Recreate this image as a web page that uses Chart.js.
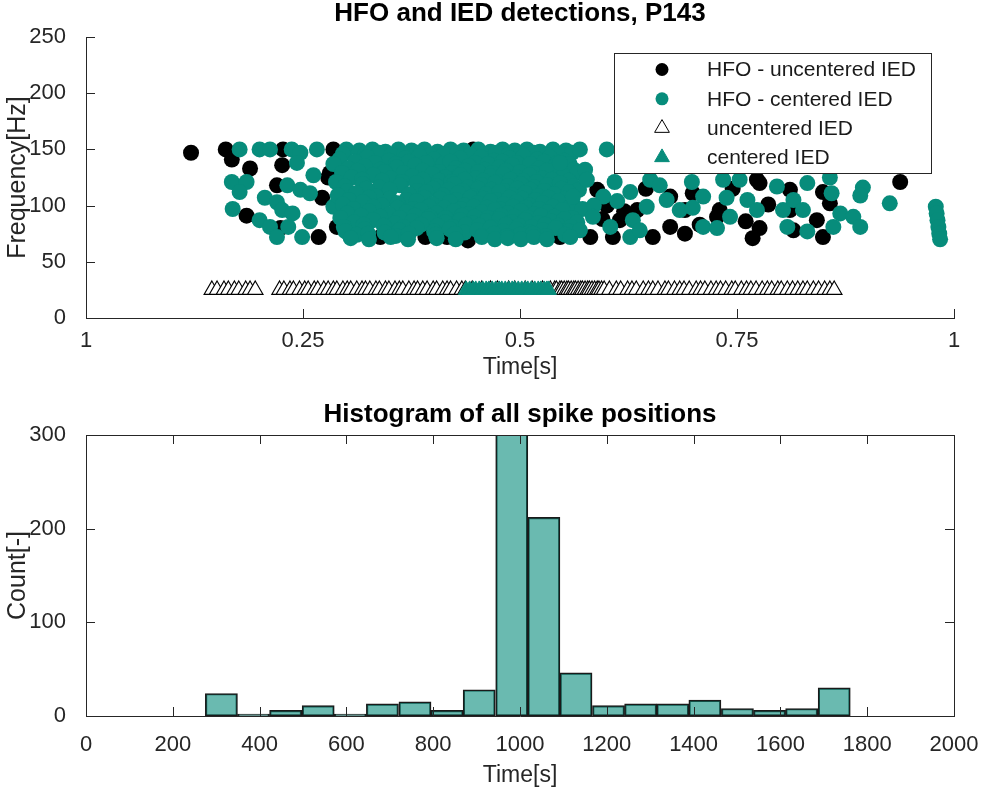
<!DOCTYPE html>
<html>
<head>
<meta charset="utf-8">
<title>HFO and IED detections, P143</title>
<script src="https://cdn.jsdelivr.net/npm/chart.js@4.4.1/dist/chart.umd.min.js"></script>
<style>
  html, body { margin: 0; padding: 0; background: #fff; }
  #wrap { position: relative; width: 982px; height: 791px; }
  canvas { position: absolute; left: 0; }
  #top { top: 0; }
  #bottom { top: 395px; }
</style>
</head>
<body>
<div id="wrap">
  <canvas id="top" width="982" height="395"></canvas>
  <canvas id="bottom" width="982" height="396"></canvas>
</div>
<script>
// ---- data ----
const legendLabels = ['HFO - uncentered IED', 'HFO - centered IED', 'uncentered IED', 'centered IED'];
const timeTickLabels = ['1', '0.25', '0.5', '0.75', '1'];
const iedLevel = 25; // Hz, row where IED markers sit

// HFO detections [time, frequency]
const hfoUncentered = [
  [0.121,147],[0.161,150],[0.168,141],[0.189,133],[0.185,91],[0.220,118],[0.224,80],[0.226,136],
  [0.227,150],[0.268,72],[0.272,107],[0.279,125],[0.281,129],[0.285,150],[0.289,81],[0.339,72],
  [0.347,109],[0.365,76],[0.370,132],[0.391,117],[0.391,72],[0.396,134],[0.416,132],[0.416,72],
  [0.440,69],[0.446,150],[0.497,138],[0.512,129],[0.535,120],[0.527,85],[0.546,72],[0.581,72],
  [0.589,114],[0.600,100],[0.595,88],[0.607,72],[0.615,87],[0.620,95],[0.635,96],[0.645,115],
  [0.653,72],[0.673,81],[0.673,108],[0.690,75],[0.690,96],[0.699,111],[0.707,83],[0.727,90],
  [0.730,96],[0.745,115],[0.760,86],[0.768,71],[0.773,123],[0.776,120],[0.776,80],[0.786,101],
  [0.811,114],[0.811,96],[0.815,78],[0.842,87],[0.849,112],[0.849,72],[0.857,102],[0.938,121]
];
const hfoCentered = [
  // left edge
  [0.168,121],[0.185,121],[0.177,112],[0.169,97],[0.177,150],[0.200,150],[0.212,150],[0.237,150],
  [0.247,147],[0.243,138],[0.266,150],[0.262,127],[0.232,118],[0.247,114],[0.258,111],[0.206,107],
  [0.220,103],[0.285,99],[0.200,87],[0.212,81],[0.220,72],[0.226,96],[0.238,93],[0.233,81],
  [0.258,86],[0.249,72],
  // dense core
  [0.300,150],[0.315,149],[0.330,150],[0.345,148],[0.360,150],[0.375,149],[0.390,150],[0.405,148],
  [0.420,150],[0.435,149],[0.452,150],[0.466,148],[0.480,150],[0.494,149],[0.508,150],[0.523,148],
  [0.538,150],[0.553,149],
  [0.296,146],[0.322,146],[0.338,147],[0.352,145],[0.367,146],[0.382,147],[0.397,145],[0.413,146],
  [0.428,147],[0.443,145],[0.459,146],[0.473,147],[0.487,145],[0.501,146],[0.516,147],[0.530,145],
  [0.545,146],[0.560,147],
  [0.292,141],[0.324,143],[0.349,140],[0.368,142],[0.384,144],[0.401,141],[0.431,142],[0.455,143],
  [0.470,140],[0.488,142],[0.504,144],[0.520,141],[0.534,143],[0.551,140],
  [0.285,137],[0.310,139],[0.333,138],[0.357,137],[0.372,139],[0.392,138],[0.412,137],[0.420,139],
  [0.448,138],[0.463,137],[0.480,139],[0.496,138],[0.512,137],[0.528,139],[0.543,138],[0.557,137],
  [0.302,133],[0.321,135],[0.339,132],[0.358,134],[0.379,136],[0.426,133],[0.441,135],[0.459,132],
  [0.476,134],[0.491,136],[0.522,133],[0.541,135],[0.562,132],
  [0.295,129],[0.313,131],[0.344,130],[0.366,129],[0.388,131],[0.407,130],[0.422,129],[0.437,131],
  [0.452,130],[0.468,129],[0.484,131],[0.500,130],[0.515,129],[0.531,131],[0.547,130],[0.566,129],
  [0.306,125],[0.331,127],[0.351,124],[0.376,126],[0.399,128],[0.414,125],[0.431,127],[0.449,124],
  [0.466,126],[0.481,128],[0.496,125],[0.511,127],[0.526,124],[0.550,126],
  [0.288,121],[0.318,123],[0.341,122],[0.364,121],[0.388,123],[0.407,122],[0.421,121],[0.436,123],
  [0.458,122],[0.474,121],[0.489,123],[0.504,122],[0.519,121],[0.537,123],[0.556,122],
  [0.298,117],[0.319,119],[0.338,116],[0.362,118],[0.381,120],[0.404,117],[0.424,119],[0.440,116],
  [0.456,118],[0.471,120],[0.486,117],[0.501,119],[0.516,116],[0.531,118],[0.546,120],[0.562,117],
  [0.301,113],[0.323,115],[0.350,114],[0.382,113],[0.400,115],[0.418,114],[0.434,113],[0.452,115],
  [0.467,114],[0.482,113],[0.497,115],[0.512,114],[0.528,113],[0.548,115],[0.568,114],
  [0.290,109],[0.311,111],[0.334,108],[0.372,110],[0.392,112],[0.411,109],[0.429,111],[0.446,108],
  [0.461,110],[0.476,112],[0.491,109],[0.506,111],[0.521,108],[0.539,110],[0.556,112],
  [0.303,105],[0.326,107],[0.350,106],[0.369,105],[0.390,107],[0.408,106],[0.427,105],[0.443,107],
  [0.458,106],[0.473,105],[0.488,107],[0.503,106],[0.518,105],[0.533,107],[0.552,106],
  [0.296,101],[0.319,103],[0.341,100],[0.359,102],[0.381,104],[0.399,101],[0.419,103],[0.436,100],
  [0.451,102],[0.466,104],[0.481,101],[0.496,103],[0.511,100],[0.526,102],[0.544,104],[0.561,101],
  [0.308,97],[0.331,99],[0.359,98],[0.377,97],[0.395,99],[0.413,98],[0.432,97],[0.447,99],
  [0.462,98],[0.477,97],[0.492,99],[0.507,98],[0.522,97],[0.538,99],[0.556,98],[0.572,97],
  [0.301,93],[0.326,95],[0.349,92],[0.369,94],[0.386,96],[0.404,93],[0.424,95],[0.441,92],
  [0.456,94],[0.471,96],[0.486,93],[0.501,95],[0.516,92],[0.531,94],[0.549,96],
  [0.293,89],[0.317,91],[0.339,90],[0.361,89],[0.379,91],[0.396,90],[0.414,89],[0.433,91],
  [0.448,90],[0.463,89],[0.478,91],[0.494,90],[0.509,89],[0.524,91],[0.540,90],[0.560,89],
  [0.309,85],[0.331,87],[0.356,84],[0.376,86],[0.394,88],[0.414,85],[0.431,87],[0.446,84],
  [0.461,86],[0.476,88],[0.491,85],[0.506,87],[0.521,84],[0.536,86],[0.551,88],[0.566,85],
  [0.297,81],[0.320,83],[0.343,82],[0.366,81],[0.386,83],[0.405,82],[0.422,81],[0.438,83],
  [0.453,82],[0.468,81],[0.484,83],[0.499,82],[0.514,81],[0.529,83],[0.544,82],[0.559,81],
  [0.299,77],[0.321,79],[0.344,76],[0.361,78],[0.381,80],[0.401,77],[0.419,79],[0.436,76],
  [0.451,78],[0.466,80],[0.481,77],[0.496,79],[0.511,76],[0.526,78],[0.541,80],[0.556,77],
  [0.312,74],[0.325,75],[0.357,73],[0.372,75],[0.403,74],[0.425,75],[0.456,73],[0.470,75],
  [0.485,73],[0.500,74],[0.515,75],[0.530,73],[0.552,74],
  [0.305,71],[0.326,70],[0.351,72],[0.371,70],[0.404,71],[0.426,70],[0.456,72],[0.471,70],
  [0.486,71],[0.501,70],[0.516,72],[0.531,70],
  // right side
  [0.569,150],[0.600,150],[0.546,138],[0.575,132],[0.577,123],[0.609,121],[0.561,108],[0.596,108],
  [0.585,100],[0.612,104],[0.627,112],[0.650,123],[0.661,118],[0.669,105],[0.646,99],[0.630,87],
  [0.604,81],[0.584,90],[0.569,78],[0.558,72],[0.627,72],[0.638,78],[0.684,96],[0.698,121],
  [0.711,108],[0.699,98],[0.711,81],[0.727,80],[0.742,90],[0.734,123],[0.753,123],[0.738,107],
  [0.762,105],[0.773,96],[0.796,117],[0.803,96],[0.808,81],[0.815,105],[0.831,120],[0.826,96],
  [0.869,93],[0.884,90],[0.892,81],[0.861,81],[0.831,77],[0.857,125],[0.859,111],[0.895,116],
  [0.892,109],[0.926,102],[0.979,99],[0.980,93],[0.981,87],[0.982,81],[0.983,75],[0.984,70]
];

// IED detections, time only
const iedUncentered = [
  0.145,0.151,0.159,0.164,0.171,0.176,0.184,0.189,0.195,
  0.223,0.228,0.235,0.239,0.246,0.252,0.256,0.263,0.267,0.274,0.279,0.285,0.289,0.296,0.301,
  0.305,0.312,0.318,0.322,0.327,0.334,0.338,0.345,0.349,0.356,0.361,0.365,0.372,0.378,0.382,
  0.388,0.393,0.400,0.404,0.411,0.416,0.420,0.427,0.433,0.437,0.445,0.456,0.466,0.474,0.487,
  0.494,0.506,0.514,0.526,0.535,0.540,0.542,0.546,0.548,0.551,0.554,0.556,0.559,0.562,0.564,
  0.567,0.570,0.572,0.575,0.578,0.580,0.583,0.586,0.589,0.591,0.594,0.597,0.603,0.611,0.616,
  0.624,0.629,0.634,0.642,0.648,0.653,0.659,0.667,0.671,0.678,0.684,0.689,0.695,0.703,0.708,
  0.713,0.720,0.726,0.731,0.737,0.744,0.748,0.755,0.761,0.766,0.772,0.779,0.785,0.790,0.797,
  0.801,0.808,0.814,0.820,0.826,0.831,0.838,0.844,0.851,0.857,0.862
];
const iedCentered = [
  0.438,0.442,0.446,0.449,0.453,0.457,0.461,0.464,0.468,0.472,0.476,0.479,0.483,0.487,
  0.491,0.494,0.498,0.502,0.506,0.509,0.513,0.517,0.521,0.524,0.528,0.531,0.533
];

// histogram of all spike positions (bin centre in s, count)
const binCenters = [312, 386, 460, 535, 609, 683, 758, 832, 906, 981,
                    1055, 1129, 1204, 1278, 1352, 1426, 1501, 1575, 1649, 1724];
const binCounts = [24, 2, 6, 11, 2, 13, 15, 6, 28, 345,
                   212, 46, 11, 13, 13, 17, 8, 6, 8, 30];

// ---- style ----
const FONT = '"Liberation Sans", Arial, Helvetica, sans-serif';
const AXIS_COLOR = '#262626';
const TEAL = '#078c7b';
const TEAL_FACE = 'rgba(7,140,123,0.6)';

Chart.defaults.font.family = FONT;
Chart.defaults.color = AXIS_COLOR;
Chart.defaults.animation = false;

// MATLAB style ticks pointing into the axes, plus optional box
const inwardTicks = {
  id: 'inwardTicks',
  afterDatasetsDraw(chart, args, opts) {
    const { ctx, chartArea: a, scales: { x, y } } = chart;
    const len = 9;
    ctx.save();
    ctx.strokeStyle = AXIS_COLOR;
    ctx.lineWidth = 1;
    ctx.beginPath();
    x.ticks.forEach(t => {
      const px = Math.round(x.getPixelForValue(t.value)) + 0.5;
      ctx.moveTo(px, a.bottom);
      ctx.lineTo(px, a.bottom - len);
      if (opts.box) {
        ctx.moveTo(px, a.top);
        ctx.lineTo(px, a.top + len);
      }
    });
    y.ticks.forEach(t => {
      const py = Math.round(y.getPixelForValue(t.value)) + 0.5;
      ctx.moveTo(a.left, py);
      ctx.lineTo(a.left + len, py);
      if (opts.box) {
        ctx.moveTo(a.right, py);
        ctx.lineTo(a.right - len, py);
      }
    });
    if (opts.box) {
      ctx.moveTo(Math.round(a.left) + 0.5, Math.round(a.top) + 0.5);
      ctx.lineTo(Math.round(a.right) + 0.5, Math.round(a.top) + 0.5);
      ctx.lineTo(Math.round(a.right) + 0.5, Math.round(a.bottom) + 0.5);
    }
    ctx.stroke();
    ctx.restore();
  }
};

// axes title, centred over the plot area like MATLAB does
const axesTitle = {
  id: 'axesTitle',
  afterDraw(chart, args, opts) {
    const { ctx, chartArea: a } = chart;
    ctx.save();
    ctx.font = 'bold 26px ' + FONT;
    ctx.fillStyle = '#000';
    ctx.textAlign = 'center';
    ctx.textBaseline = 'middle';
    ctx.fillText(opts.text, (a.left + a.right) / 2, opts.y);
    ctx.restore();
  }
};

function drawMarker(ctx, style, x, y, r, fill, stroke) {
  ctx.beginPath();
  if (style === 'triangle') {
    ctx.moveTo(x, y - r);
    ctx.lineTo(x + r * Math.sin(Math.PI / 3), y + r / 2);
    ctx.lineTo(x - r * Math.sin(Math.PI / 3), y + r / 2);
    ctx.closePath();
  } else {
    ctx.arc(x, y, r, 0, Math.PI * 2);
  }
  ctx.fillStyle = fill;
  ctx.fill();
  if (stroke) {
    ctx.strokeStyle = stroke;
    ctx.lineWidth = 1;
    ctx.stroke();
  }
}

// legend box inside the axes, top right
const legendBox = {
  id: 'legendBox',
  afterDraw(chart) {
    const ctx = chart.ctx;
    const bx = 614.5, by = 53.5, bw = 317, bh = 120;
    ctx.save();
    ctx.fillStyle = '#fff';
    ctx.fillRect(bx, by, bw, bh);
    ctx.strokeStyle = AXIS_COLOR;
    ctx.lineWidth = 1;
    ctx.strokeRect(bx, by, bw, bh);
    ctx.font = '21px ' + FONT;
    ctx.textBaseline = 'middle';
    ctx.textAlign = 'left';
    chart.data.datasets.forEach((ds, i) => {
      const cy = by + 16 + i * 29.3;
      const r = ds.pointStyle === 'triangle' ? 8.5 : 6.5;
      drawMarker(ctx, ds.pointStyle, 662, cy, r, ds.backgroundColor,
                 ds.pointStyle === 'triangle' && ds.borderWidth ? ds.borderColor : null);
      ctx.fillStyle = '#1a1a1a';
      ctx.fillText(legendLabels[i], 707, cy + 1);
    });
    ctx.restore();
  }
};

const toXY = pairs => pairs.map(p => ({ x: p[0], y: p[1] }));
const toIED = xs => xs.map(v => ({ x: v, y: iedLevel }));

const tickFont = { size: 22 };
const xTitleFont = { size: 23 };
const yTitleFont = { size: 25 };

// keep the plot edges where MATLAB put them, labels may hang over
const fixX = h => s => { s.height = h; s.paddingLeft = 0; s.paddingRight = 0; };
const fixY = s => { s.width = 86; s.paddingTop = 0; s.paddingBottom = 0; };

// ---- top: scatter of detections ----
new Chart(document.getElementById('top'), {
  type: 'scatter',
  data: {
    datasets: [
      { label: legendLabels[0], data: toXY(hfoUncentered), order: 4,
        pointStyle: 'circle', pointRadius: 8, backgroundColor: '#000', borderWidth: 0 },
      { label: legendLabels[1], data: toXY(hfoCentered), order: 3,
        pointStyle: 'circle', pointRadius: 8, backgroundColor: TEAL, borderWidth: 0 },
      { label: legendLabels[2], data: toIED(iedUncentered), order: 2,
        pointStyle: 'triangle', pointRadius: 9, backgroundColor: '#fff', borderColor: '#000', borderWidth: 1.1 },
      { label: legendLabels[3], data: toIED(iedCentered), order: 1,
        pointStyle: 'triangle', pointRadius: 9, backgroundColor: TEAL, borderColor: TEAL, borderWidth: 1 }
    ]
  },
  options: {
    responsive: false,
    devicePixelRatio: 1,
    layout: { padding: { left: 0, right: 28, top: 37, bottom: 0 } },
    plugins: {
      legend: { display: false },
      tooltip: { enabled: false },
      axesTitle: { text: 'HFO and IED detections, P143', y: 14 },
      inwardTicks: { box: false }
    },
    scales: {
      x: {
        type: 'linear', min: 0, max: 1,
        grid: { display: false },
        border: { display: true, color: AXIS_COLOR, width: 1 },
        ticks: { stepSize: 0.25, font: tickFont, color: AXIS_COLOR, padding: 2,
                 maxRotation: 0, callback: (v, i) => timeTickLabels[i] },
        title: { display: true, text: 'Time[s]', font: xTitleFont, color: AXIS_COLOR, padding: { top: 0, bottom: 14 } },
        afterFit: fixX(77)
      },
      y: {
        min: 0, max: 250,
        grid: { display: false },
        border: { display: true, color: AXIS_COLOR, width: 1 },
        ticks: { stepSize: 50, font: tickFont, color: AXIS_COLOR, padding: 12 },
        title: { display: true, text: 'Frequency[Hz]', font: yTitleFont, color: AXIS_COLOR, padding: { top: 3, bottom: 0 } },
        afterFit: fixY
      }
    }
  },
  plugins: [inwardTicks, axesTitle, legendBox]
});

// ---- bottom: histogram ----
new Chart(document.getElementById('bottom'), {
  type: 'bar',
  data: {
    datasets: [{
      label: 'Count',
      data: binCenters.map((c, i) => ({ x: c, y: binCounts[i] })),
      backgroundColor: TEAL_FACE,
      borderColor: '#1a1a1a',
      borderWidth: 1.5,
      borderSkipped: false,
      barPercentage: 1,
      categoryPercentage: 1
    }]
  },
  options: {
    responsive: false,
    devicePixelRatio: 1,
    layout: { padding: { left: 0, right: 28, top: 40, bottom: 0 } },
    plugins: {
      legend: { display: false },
      tooltip: { enabled: false },
      axesTitle: { text: 'Histogram of all spike positions', y: 20 },
      inwardTicks: { box: true }
    },
    scales: {
      x: {
        type: 'linear', min: 0, max: 2000, offset: false,
        grid: { display: false, offset: false },
        border: { display: true, color: AXIS_COLOR, width: 1 },
        ticks: { stepSize: 200, font: tickFont, color: AXIS_COLOR, padding: 8, maxRotation: 0,
                 callback: v => String(v) },
        title: { display: true, text: 'Time[s]', font: xTitleFont, color: AXIS_COLOR, padding: { top: 0, bottom: 2 } },
        afterFit: fixX(75)
      },
      y: {
        min: 0, max: 300,
        grid: { display: false },
        border: { display: true, color: AXIS_COLOR, width: 1 },
        ticks: { stepSize: 100, font: tickFont, color: AXIS_COLOR, padding: 12 },
        title: { display: true, text: 'Count[-]', font: yTitleFont, color: AXIS_COLOR, padding: { top: 3, bottom: 0 } },
        afterFit: fixY
      }
    }
  },
  plugins: [inwardTicks, axesTitle]
});
</script>
</body>
</html>
